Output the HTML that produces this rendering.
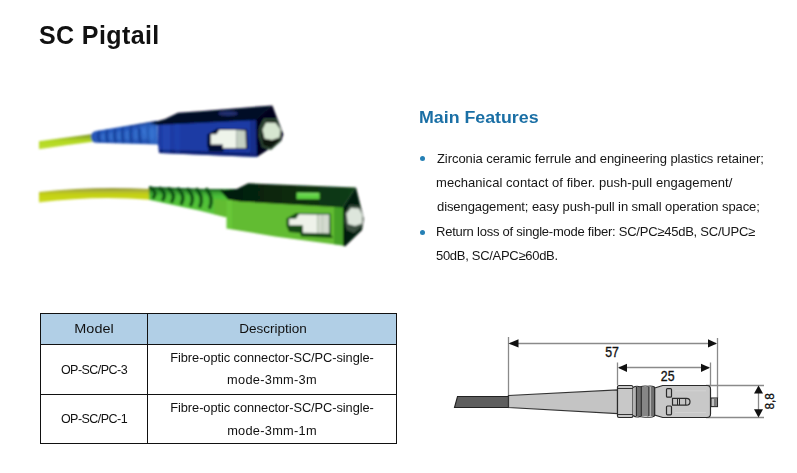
<!DOCTYPE html>
<html><head><meta charset="utf-8">
<style>
html,body{margin:0;padding:0;background:#fff;}
body{width:797px;height:473px;position:relative;overflow:hidden;font-family:"Liberation Sans",sans-serif;}
.t{position:absolute;white-space:nowrap;will-change:transform;}
.dot{position:absolute;width:5px;height:5px;border-radius:50%;background:#2580b5;}
.hl{position:absolute;background:#111;height:1px;}
.vl{position:absolute;background:#111;width:1px;}
svg{position:absolute;left:0;top:0;}
</style></head><body>
<svg width="797" height="473" viewBox="0 0 797 473">
<defs>
<filter id="soft" x="-5%" y="-5%" width="110%" height="110%"><feGaussianBlur stdDeviation="0.8"/></filter>
<linearGradient id="yel" x1="0" y1="0" x2="0" y2="1">
<stop offset="0" stop-color="#788c2a"/><stop offset="0.22" stop-color="#94b426"/><stop offset="0.45" stop-color="#b2d822"/><stop offset="0.8" stop-color="#badc2a"/><stop offset="1" stop-color="#c2de44"/></linearGradient>
<linearGradient id="yel2" x1="0" y1="0" x2="0" y2="1">
<stop offset="0" stop-color="#8e9040"/><stop offset="0.22" stop-color="#b0b830"/><stop offset="0.45" stop-color="#c4d016"/><stop offset="0.8" stop-color="#c8d81a"/><stop offset="1" stop-color="#d0dc40"/></linearGradient>
<linearGradient id="bboot" x1="0" y1="0" x2="0" y2="1">
<stop offset="0" stop-color="#142e78"/><stop offset="0.3" stop-color="#2758bc"/><stop offset="1" stop-color="#2656b4"/></linearGradient>
<linearGradient id="gboot" x1="0" y1="0" x2="0" y2="1">
<stop offset="0" stop-color="#186a24"/><stop offset="0.3" stop-color="#4cc038"/><stop offset="1" stop-color="#5cc43a"/></linearGradient>
<linearGradient id="gtop" x1="0" y1="0" x2="1" y2="0">
<stop offset="0" stop-color="#051a08"/><stop offset="0.5" stop-color="#082a0e"/><stop offset="1" stop-color="#0e3e16"/></linearGradient>
</defs>
<g filter="url(#soft)">
<!-- BLUE CONNECTOR -->
<path d="M39,141.3 Q66,137.5 93,134 L93,141.8 Q66,145 39,149.3 Z" fill="url(#yel)"/>
<path d="M91,137 Q91,131.8 96,131 L157,120.8 L158,144.5 L96,142.8 Q91,142.5 91,137 Z" fill="url(#bboot)"/><ellipse cx="103.5" cy="137" rx="2.6" ry="3.5" fill="#3f7ed8" opacity="0.5"/><ellipse cx="111.5" cy="136.5" rx="2.6" ry="4" fill="#3f7ed8" opacity="0.5"/><ellipse cx="119.5" cy="135.8" rx="2.6" ry="4.5" fill="#3f7ed8" opacity="0.5"/><ellipse cx="127.5" cy="135.3" rx="2.6" ry="5" fill="#3f7ed8" opacity="0.5"/><ellipse cx="136" cy="134.5" rx="2.6" ry="5.5" fill="#3f7ed8" opacity="0.5"/><ellipse cx="144" cy="134" rx="2.6" ry="6" fill="#3f7ed8" opacity="0.5"/><ellipse cx="152" cy="133.5" rx="2.6" ry="6.5" fill="#3f7ed8" opacity="0.5"/>
<g stroke="#17409a" stroke-width="2.3" fill="none" opacity="0.9">
<path d="M99.5,131 q-2.5,5.5 0.5,11"/><path d="M107.5,129.6 q-2.5,6 0.5,13"/><path d="M115.5,128.3 q-2.5,7 0.5,14.5"/><path d="M123.2,127 q-2.5,8 0.5,16"/><path d="M131.5,125.5 q-2.5,9 0.5,17.5"/><path d="M140,124 q-2.5,10 1,19"/><path d="M148.4,122.5 q-2,11 1,21"/>
</g>
<path d="M138,126 L150,123 L157,122 L157.5,143.5 L150,143.5 Z" fill="#3a7ad6" opacity="0.45"/>
<!-- head front face -->
<path d="M157.5,123.5 L257,119 L257,157 L159,153 L158,144.5 Z" fill="#1a3aa4"/>
<path d="M159,149.5 L257,153 L257,157 L159,153 Z" fill="#0e1c68" opacity="0.8"/>
<path d="M162,124 L170,123.6 L170,153 L163,152.8 Z" fill="#3562d4" opacity="0.25"/>
<path d="M174,123.3 L180,123 L180,153.4 L175,153.2 Z" fill="#3562d4" opacity="0.18"/>
<path d="M250,119.5 L257,119 L257,157 L250,156.5 Z" fill="#142a80" opacity="0.7"/>
<!-- top face -->
<path d="M150,123.3 L165,119 L178,112.7 L200,111.2 L272.4,105.4 L257,120 L157.5,125 Z" fill="#060a26"/>
<ellipse cx="228" cy="113.5" rx="10" ry="2.4" fill="#2a3a86" opacity="0.75"/>
<!-- end face -->
<path d="M256,120 L272.4,105.4 L283.2,134.2 L281.2,140.9 L257,157.1 Z" fill="#03051a"/>
<path d="M259.5,127 L264,118.5 L276,118.5 L280.5,128 L280,142 L271,150 L262,147 L259,136 Z" fill="#34503a"/>
<path d="M261.5,128 L265.5,120.5 L275.5,120.5 L279.5,128 L279,141 L271,148 L263,145.5 L261,136 Z" fill="#0a140e"/>
<path d="M262.5,129.5 L266,122.5 L275.5,122.8 L280.5,129.5 L279.5,137.5 L272,140 L264.5,138.5 Z" fill="#d6e6d0"/>
<!-- latch -->
<path d="M207.5,134.3 L217,128.8 L247,129.2 L248,149 L224,149 L223,151.5 L209,151.5 L207,145 Z" fill="#040a30"/>
<path d="M210.8,134.3 L216.5,134.3 L219.2,130 L236.2,130 L236.5,148 L222.8,148 L222.8,144.4 L210.8,144.4 Z" fill="#eef4ea"/>
<path d="M236.2,130 L245.5,130.4 L246,148 L236.5,148 Z" fill="#c4d0c2"/>

<!-- GREEN CONNECTOR -->
<path d="M39,192 Q95,185.8 150,189 L150,199.8 Q95,195.2 39,202.6 Z" fill="url(#yel2)"/>
<path d="M148.9,187 L200,189 L237,189 L237,218 L225,217 L200,210.8 L148.9,199.7 Z" fill="url(#gboot)"/>
<g stroke="#0c4c16" stroke-width="3.6" fill="none" opacity="0.9" stroke-linecap="round">
<path d="M150.5,187.8 Q157.5,192.3 153.5,197.3"/><path d="M160.0,188.3 Q167.0,193.6 163.0,199.4"/><path d="M169.0,188.7 Q176.0,194.8 172.0,201.4"/><path d="M178.5,189.0 Q185.5,195.9 181.5,203.3"/><path d="M188.0,189.3 Q195.0,196.8 191.0,204.8"/><path d="M197.0,189.5 Q204.0,197.6 200.0,206.2"/><path d="M206.8,189.5 Q213.8,198.2 209.8,207.4"/>
<path d="M150,187.5 L200,189.5 L222,190" stroke-width="1.6" opacity="0.8"/>
</g>
<!-- front face -->
<path d="M214,199 L343,207 L343,245.5 L275,236.5 L226.6,228.5 L226.6,217.3 L214,214 Z" fill="#62bc32"/>
<path d="M226.6,200 L232,200.3 L232,229.3 L226.6,228.5 Z" fill="#74dc48" opacity="0.35"/>
<path d="M334,206.5 L343,207 L343,245.5 L334,244.3 Z" fill="#2c8a1c" opacity="0.55"/>
<!-- top face -->
<path d="M220,190.5 L236.8,189 L248.2,183.3 L356,187.5 L343,207.5 L240,201.5 L228,199.5 Z" fill="url(#gtop)"/>
<path d="M296.6,192.5 L319.6,192.8 L319.6,199.3 L296.6,199 Z" fill="#5cd040"/>
<path d="M297.5,193 L318.5,193.3 L318.5,195 L297.5,194.8 Z" fill="#8ae070" opacity="0.7"/>
<!-- end face -->
<path d="M343,207.5 L356,187.5 L363.7,218.5 L362,230 L345,246.5 L343,245.5 Z" fill="#041a08"/>
<path d="M345,213 L349.5,205 L358.5,205.5 L362.5,214 L362,226 L354,233 L347,230 L344.5,221 Z" fill="#3a5040"/>
<path d="M346.5,213.5 L351,208 L359,208.5 L362.5,215 L362,223.5 L355,226 L348,224 Z" fill="#dde6dc"/>
<!-- latch -->
<path d="M286.5,218.5 L296,213 L330.5,213.5 L331,234.5 L333,238 L301,236.5 L300,233 L289,232 L286.5,226 Z" fill="#124a18"/>
<path d="M289.2,218.7 L296,218.7 L298.9,214.2 L317.4,214.4 L317.6,233 L303,232.8 L302.8,225.3 L289.2,225.3 Z" fill="#eef2ea"/>
<path d="M317.4,214.4 L329.2,214.6 L329.2,233.5 L317.6,233 Z" fill="#d3dacf"/>
<line x1="322.5" y1="215" x2="322.5" y2="233" stroke="#b8c4b4" stroke-width="1"/>
</g>
</svg>
<svg width="797" height="473" viewBox="0 0 797 473">
<g stroke="#8a8a8a" stroke-width="1.3" fill="none">
<line x1="508.5" y1="337" x2="508.5" y2="396"/>
<line x1="717.5" y1="338" x2="717.5" y2="398"/>
<line x1="510" y1="343.5" x2="716" y2="343.5"/>
<line x1="617.5" y1="362.5" x2="617.5" y2="385"/>
<line x1="710.5" y1="362.5" x2="710.5" y2="385"/>
<line x1="619" y1="367.5" x2="709" y2="367.5"/>
<line x1="706" y1="385.5" x2="764" y2="385.5"/>
<line x1="706" y1="417.5" x2="764" y2="417.5"/>
<line x1="758.5" y1="387" x2="758.5" y2="416"/>
</g>
<g fill="#111">
<path d="M508.5,343.5 L518.5,339.3 L518.5,347.5 Z"/>
<path d="M717,343.5 L708,339.3 L708,347.5 Z"/>
<path d="M618,367.8 L627,363.8 L627,372 Z"/>
<path d="M710,367.8 L701,363.8 L701,372 Z"/>
<path d="M758.5,385.5 L754,393.5 L763,393.5 Z"/>
<path d="M758.5,417.5 L754,409.3 L763,409.3 Z"/>
</g>
<text transform="translate(612,357) scale(0.88,1)" font-size="14" text-anchor="middle" fill="#111" stroke="#111" stroke-width="0.35" font-family="Liberation Sans">57</text>
<text transform="translate(667.7,381) scale(0.88,1)" font-size="14" text-anchor="middle" fill="#111" stroke="#111" stroke-width="0.35" font-family="Liberation Sans">25</text>
<text transform="translate(773.5,401.3) rotate(-90) scale(0.88,1)" font-size="13.5" text-anchor="middle" fill="#111" stroke="#111" stroke-width="0.3" font-family="Liberation Sans">8,8</text>
<!-- cable -->
<path d="M457.5,396.5 L508.5,396.5 L508.5,407.5 L454.5,407.5 Z" fill="#5e5e5e" stroke="#222" stroke-width="1.1"/>
<path d="M508.5,395.5 L617.5,390 L617.5,413.5 L508.5,407.5 Z" fill="#c4c4c4" stroke="#333" stroke-width="1.2"/>
<!-- body left section -->
<path d="M617.5,387 Q617.5,385.5 619,385.5 L631.5,385.5 Q633,385.5 633,387.5 L633,415.5 Q633,417.5 631.5,417.5 L619,417.5 Q617.5,417.5 617.5,416 Z" fill="#c8c8c8" stroke="#2a2a2a" stroke-width="1.2"/>
<g stroke="#333" stroke-width="1" fill="none">
<line x1="618" y1="388.5" x2="633" y2="388.5"/>
<line x1="618" y1="414.5" x2="633" y2="414.5"/>
</g>
<!-- ridges -->
<rect x="633" y="387" width="21.7" height="29" fill="#8e8e8e"/>
<rect x="633" y="387" width="3.4" height="29" fill="#b4b4b4"/>
<rect x="636.4" y="387" width="4.9" height="29" fill="#6e6e6e"/>
<rect x="641.3" y="387" width="7.6" height="29" fill="#868686"/>
<rect x="648.9" y="387" width="2.2" height="29" fill="#b0b0b0"/>
<rect x="651.1" y="387" width="3.6" height="29" fill="#6e6e6e"/>
<g stroke="#2a2a2a" stroke-width="1.1" fill="none">
<path d="M633,387.5 Q636,385.5 640,386.8 Q644,385.5 648,386.2 Q651,385.5 654.7,387"/>
<path d="M633,415.5 Q636,417.8 640,416.5 Q644,417.8 648,417 Q651,417.8 654.7,416"/>
<line x1="636.4" y1="387" x2="636.4" y2="416"/>
<line x1="641.3" y1="387" x2="641.3" y2="416"/>
<line x1="648.9" y1="387" x2="648.9" y2="416"/>
<line x1="654.7" y1="387" x2="654.7" y2="416"/>
</g>
<!-- main body -->
<path d="M654.7,388 L662.7,385.5 L707,385.5 Q710.5,385.5 710.5,389 L710.5,414 Q710.5,417.5 707,417.5 L662.7,417.5 L654.7,415 Z" fill="#c8c8c8" stroke="#2a2a2a" stroke-width="1.2"/>
<g stroke="#d8d8d8" stroke-width="0.8" fill="none" opacity="0.8">
<path d="M675,390.8 L706,390.8 M675,412.5 L706,412.5"/>
</g>
<g stroke="#2a2a2a" stroke-width="1.2" fill="#c4c4c4">
<rect x="666.5" y="388.6" width="5" height="8.6" rx="1"/>
<rect x="666.5" y="406" width="5" height="8.8" rx="1"/>
<path d="M672.5,398.4 L686.5,398.4 Q690,398.4 690,401.8 Q690,405.2 686.5,405.2 L672.5,405.2 Z"/>
</g>
<g stroke="#2a2a2a" stroke-width="1" fill="none">
<line x1="677.5" y1="398.5" x2="677.5" y2="405"/>
<line x1="679.5" y1="398.5" x2="679.5" y2="405"/>
<line x1="685.7" y1="398.5" x2="685.7" y2="405"/>
</g>
<rect x="711" y="398" width="6.5" height="8.6" fill="#c0c0c0" stroke="#2a2a2a" stroke-width="1.1"/>
<rect x="714" y="398.5" width="2.8" height="7.6" fill="#7a7a7a"/>
</svg>

<div style="position:absolute;left:41px;top:314px;width:355px;height:30px;background:#b1cfe6"></div>
<div class="hl" style="left:40px;top:313px;width:357px"></div>
<div class="hl" style="left:40px;top:344px;width:357px"></div>
<div class="hl" style="left:40px;top:394px;width:357px"></div>
<div class="hl" style="left:40px;top:443px;width:357px"></div>
<div class="vl" style="left:40px;top:313px;height:131px"></div>
<div class="vl" style="left:147px;top:313px;height:131px"></div>
<div class="vl" style="left:396px;top:313px;height:131px"></div>
<div class="dot" style="left:419.5px;top:156px"></div>
<div class="dot" style="left:419.5px;top:229.5px"></div>
<div class="t" id="title" style="left:39.40px;top:23.24px;font-size:25px;line-height:25px;letter-spacing:0.397px;color:#111;font-weight:bold;">SC Pigtail</div>
<div class="t" id="mf" style="left:418.51px;top:110.23px;font-size:15.8px;line-height:15.8px;letter-spacing:0.000px;color:#1a6fa5;font-weight:bold;transform:scaleX(1.1257);transform-origin:0 0;">Main Features</div>
<div class="t" id="l1" style="left:436.60px;top:152.40px;font-size:13px;line-height:13px;letter-spacing:-0.069px;color:#161616;">Zirconia ceramic ferrule and engineering plastics retainer;</div>
<div class="t" id="l2" style="left:435.60px;top:176.40px;font-size:13px;line-height:13px;letter-spacing:0.061px;color:#161616;">mechanical contact of fiber. push-pull engagement/</div>
<div class="t" id="l3" style="left:436.60px;top:200.40px;font-size:13px;line-height:13px;letter-spacing:-0.083px;color:#161616;">disengagement; easy push-pull in small operation space;</div>
<div class="t" id="l4" style="left:435.60px;top:224.80px;font-size:13px;line-height:13px;letter-spacing:-0.236px;color:#161616;">Return loss of single-mode fiber: SC/PC≥45dB, SC/UPC≥</div>
<div class="t" id="l5" style="left:435.60px;top:249.00px;font-size:13px;line-height:13px;letter-spacing:-0.294px;color:#161616;">50dB, SC/APC≥60dB.</div>
<div class="t" id="h1" style="left:-105.90px;width:400px;text-align:center;top:322.64px;font-size:12px;line-height:12px;letter-spacing:0.000px;color:#111;transform:scaleX(1.2015);transform-origin:50% 0;">Model</div>
<div class="t" id="h2" style="left:72.50px;width:400px;text-align:center;top:323.14px;font-size:12px;line-height:12px;letter-spacing:0.000px;color:#111;transform:scaleX(1.1277);transform-origin:50% 0;">Description</div>
<div class="t" id="m1" style="left:-106.47px;width:400px;text-align:center;top:363.62px;font-size:12.5px;line-height:12.5px;letter-spacing:-0.544px;color:#111;">OP-SC/PC-3</div>
<div class="t" id="m2" style="left:-106.47px;width:400px;text-align:center;top:412.62px;font-size:12.5px;line-height:12.5px;letter-spacing:-0.544px;color:#111;">OP-SC/PC-1</div>
<div class="t" id="d1" style="left:71.87px;width:400px;text-align:center;top:351.86px;font-size:12.8px;line-height:12.8px;letter-spacing:-0.059px;color:#111;">Fibre-optic connector-SC/PC-single-</div>
<div class="t" id="d2" style="left:72.14px;width:400px;text-align:center;top:374.46px;font-size:12.8px;line-height:12.8px;letter-spacing:0.280px;color:#111;">mode-3mm-3m</div>
<div class="t" id="d3" style="left:71.87px;width:400px;text-align:center;top:402.06px;font-size:12.8px;line-height:12.8px;letter-spacing:-0.059px;color:#111;">Fibre-optic connector-SC/PC-single-</div>
<div class="t" id="d4" style="left:72.03px;width:400px;text-align:center;top:424.66px;font-size:12.8px;line-height:12.8px;letter-spacing:0.260px;color:#111;">mode-3mm-1m</div>
</body></html>
